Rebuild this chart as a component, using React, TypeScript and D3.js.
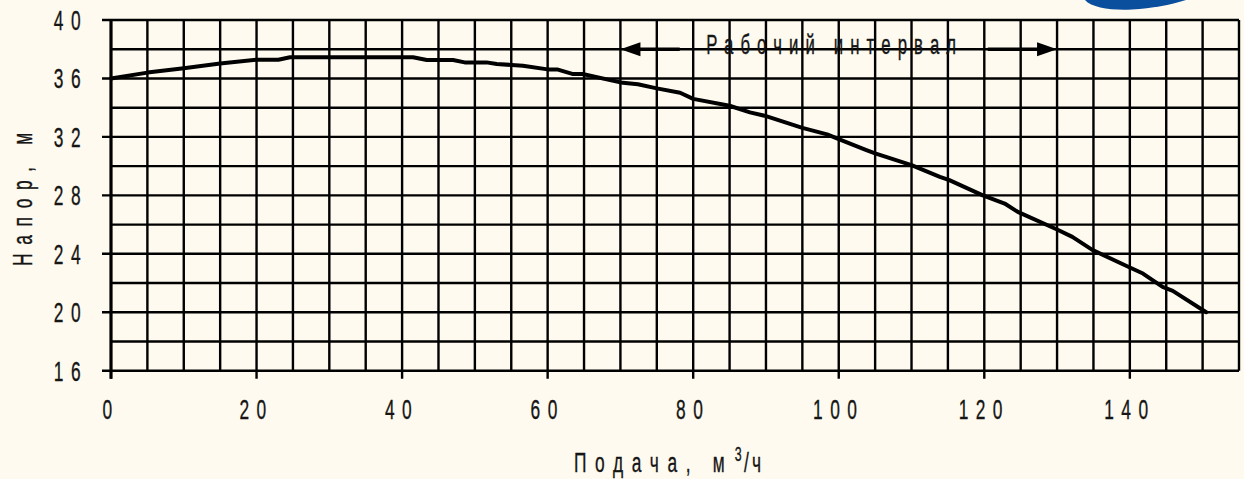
import * as d3 from 'd3'

// pump curve: head (m) vs flow (m3/h)
const flowQ = [0, 5, 10, 15, 20, 23, 24.6, 30, 35, 41.5, 43.4, 47, 48.6, 51.6, 53, 56.6, 60, 61.3, 63.5, 64.8, 70, 72.4, 75, 78.2, 80, 85, 87.8, 89.8, 95, 98.4, 100, 103.8, 105, 110, 113.9, 115.2, 119.8, 122.8, 124.6, 130, 132.1, 134.9, 140, 141.8, 144.5, 145.9, 150.5]
const headH = [36.0, 36.4, 36.7, 37.03, 37.28, 37.28, 37.45, 37.45, 37.45, 37.45, 37.26, 37.26, 37.1, 37.1, 36.99, 36.87, 36.62, 36.62, 36.3, 36.3, 35.73, 35.6, 35.32, 35.02, 34.6, 34.13, 33.68, 33.45, 32.62, 32.17, 31.85, 31.1, 30.87, 30.07, 29.27, 29.04, 28.0, 27.44, 26.87, 25.66, 25.16, 24.25, 23.06, 22.65, 21.73, 21.46, 20.0]

const xTicks = [0, 20, 40, 60, 80, 100, 120, 140]
const yTicks = [16, 20, 24, 28, 32, 36, 40]
const xGrid = d3.range(0, 156, 5)
const yGrid = d3.range(16, 41, 2)

// working interval shown with arrows
const workRange = [70, 130]
const workLabel = 'Рабочий интервал'
const workArrowY = 38

const xTitle = ['Подача,', 'м', '3', '/ч']
const yTitle = ['Напор,', 'м']

const W = 1244
const H = 479
const FONT = "'Liberation Sans', Arial, sans-serif"
const INK = '#151515'
const SX = 0.62

type LabelProps = {
  x: number
  y: number
  size?: number
  ls?: number
  anchor?: string
  rotate?: number
  children: any
}

// tall narrow lettering like the drawing: squeeze the font horizontally
const Label = ({ x, y, size = 28, ls = 12, anchor = 'middle', rotate = 0, children }: LabelProps) => (
  <g transform={`translate(${x},${y}) rotate(${rotate}) scale(${SX},1)`}>
    <text
      fontFamily={FONT}
      fontSize={size}
      letterSpacing={ls}
      textAnchor={anchor}
      fill={INK}
      stroke={INK}
      strokeWidth={0.35}
    >
      {children}
    </text>
  </g>
)

export default function App() {
  const xScale = d3.scaleLinear().domain([0, 155]).range([111, 1239])
  const yScale = d3.scaleLinear().domain([16, 40]).range([370.7, 20])

  const [x0, x1] = xScale.range()
  const [yb, yt] = yScale.range()

  const line = d3
    .line<number>()
    .x((_, i) => xScale(flowQ[i]))
    .y((d) => yScale(d))

  const ay = yScale(workArrowY)
  const aL = xScale(workRange[0])
  const aR = xScale(workRange[1])
  const mid = xScale((workRange[0] + workRange[1]) / 2)

  return (
    <svg width={W} height={H} style={{ position: 'absolute', left: 0, top: 0, background: '#fefaef' }}>
      <rect width={W} height={H} fill="#fefaef" />
      {/* corner logo fragment */}
      <path d="M1085,0 C1092,8 1112,10.5 1132,9.5 C1152,8.5 1170,5 1186,0 Z" fill="#0a4f9e" />

      {/* grid */}
      <g stroke="#000" strokeWidth={2.4}>
        {yGrid.map((v) => (
          <line key={`h${v}`} x1={yTicks.includes(v) ? x0 - 9 : x0} x2={x1} y1={yScale(v)} y2={yScale(v)} />
        ))}
        {xGrid.map((v) => (
          <line key={`v${v}`} x1={xScale(v)} x2={xScale(v)} y1={yt} y2={xTicks.includes(v) ? yb + 8 : yb} />
        ))}
        <line x1={x0} x2={x0} y1={yt} y2={yb + 8} strokeWidth={3} />
      </g>

      {/* curve */}
      <path
        d={line(headH) ?? ''}
        fill="none"
        stroke="#000"
        strokeWidth={4}
        strokeLinejoin="round"
        strokeLinecap="round"
      />

      {/* working interval */}
      <g stroke="#000" strokeWidth={3.5}>
        <line x1={aL + 16} x2={mid - 159} y1={ay} y2={ay} />
        <line x1={mid + 149} x2={aR - 16} y1={ay} y2={ay} />
      </g>
      <path d={`M${aL},${ay} L${aL + 20},${ay - 7} L${aL + 20},${ay + 7} Z`} fill="#000" />
      <path d={`M${aR},${ay} L${aR - 20},${ay - 7} L${aR - 20},${ay + 7} Z`} fill="#000" />
      <Label x={mid - 4} y={ay + 5} size={27} ls={11.5}>
        {workLabel}
      </Label>

      {/* axis tick labels */}
      {yTicks.map((v) => (
        <Label key={`yl${v}`} x={88} y={yScale(v) + 10} anchor="end">
          {String(v)}
        </Label>
      ))}
      {xTicks.map((v) => (
        <Label key={`xl${v}`} x={xScale(v)} y={419}>
          {String(v)}
        </Label>
      ))}

      {/* axis titles */}
      <Label x={(x0 + x1) / 2 - 6} y={472} ls={14}>
        {xTitle[0]}
        <tspan>{' ' + xTitle[1]}</tspan>
        <tspan fontSize={20} dy={-11} dx={2} letterSpacing={4}>
          {xTitle[2]}
        </tspan>
        <tspan dy={11} letterSpacing={5}>
          {xTitle[3]}
        </tspan>
      </Label>
      <Label x={32} y={195} ls={14} rotate={-90}>
        {yTitle[0]}
        <tspan>{' ' + yTitle[1]}</tspan>
      </Label>
    </svg>
  )
}
